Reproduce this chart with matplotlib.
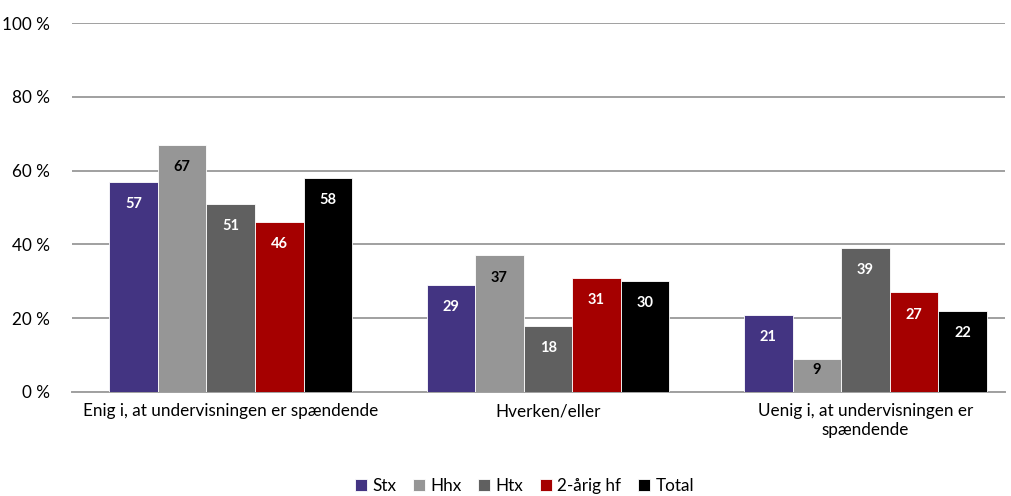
import matplotlib
matplotlib.use("Agg")
import matplotlib.pyplot as plt
import numpy as np

# Data
categories = ["Enig i, at undervisningen er spændende", "Hverken/eller",
              "Uenig i, at undervisningen er\nspændende"]
series_names = ["Stx", "Hhx", "Htx", "2-årig hf", "Total"]
stx = [57, 29, 21]
hhx = [67, 37, 9]
htx = [51, 18, 39]
hf = [46, 31, 27]
total = [58, 30, 22]
y_ticks = [0, 20, 40, 60, 80, 100]

series = [stx, hhx, htx, hf, total]
colors = ["#433482", "#969696", "#606060", "#A50000", "#000000"]
label_colors = ["white", "black", "white", "white", "white"]

plt.rcParams['font.family'] = ['Lato', 'DejaVu Sans']

fig = plt.figure(figsize=(10.12, 4.96), dpi=100)
ax = fig.add_axes([72 / 1012, 104 / 496, (1005 - 72) / 1012, (392 - 23) / 496])

x = np.arange(len(categories))
w = 0.153
for i, (vals, col, lc) in enumerate(zip(series, colors, label_colors)):
    pos = x + (i - 2) * w
    ax.bar(pos, vals, width=w, color=col, edgecolor="white", linewidth=0.6,
           label=series_names[i], zorder=3)
    # Wertlabels innen oben
    for p, v in zip(pos, vals):
        off = min(6.0, v * 0.35)
        ax.text(p, v - off, str(v), ha="center", va="center", color=lc,
                fontsize=10.5, fontweight="bold", zorder=4)

ax.set_xlim(-0.5, 2.44)
ax.set_ylim(0, 100)
ax.set_yticks(y_ticks)
ax.set_yticklabels([f"{t} %" for t in y_ticks], fontsize=12.3)
ax.set_xticks(x)
ax.set_xticklabels(categories, fontsize=12.3)
ax.tick_params(axis="both", length=0, pad=8)
ax.tick_params(axis="y", pad=16)
ax.grid(axis="y", color="#A0A0A0", linewidth=1.4, zorder=0)
for s in ["left", "right", "top"]:
    ax.spines[s].set_visible(False)
ax.spines["bottom"].set_color("#A0A0A0")
ax.spines["bottom"].set_linewidth(1.4)

ax.legend(loc="upper center", bbox_to_anchor=(0.485, -0.224), ncol=5, frameon=False,
          fontsize=12.3, handlelength=0.7, handleheight=0.7, handletextpad=0.3,
          columnspacing=1.0, borderaxespad=0, borderpad=0.2)

fig.savefig("out.png", dpi=100)
